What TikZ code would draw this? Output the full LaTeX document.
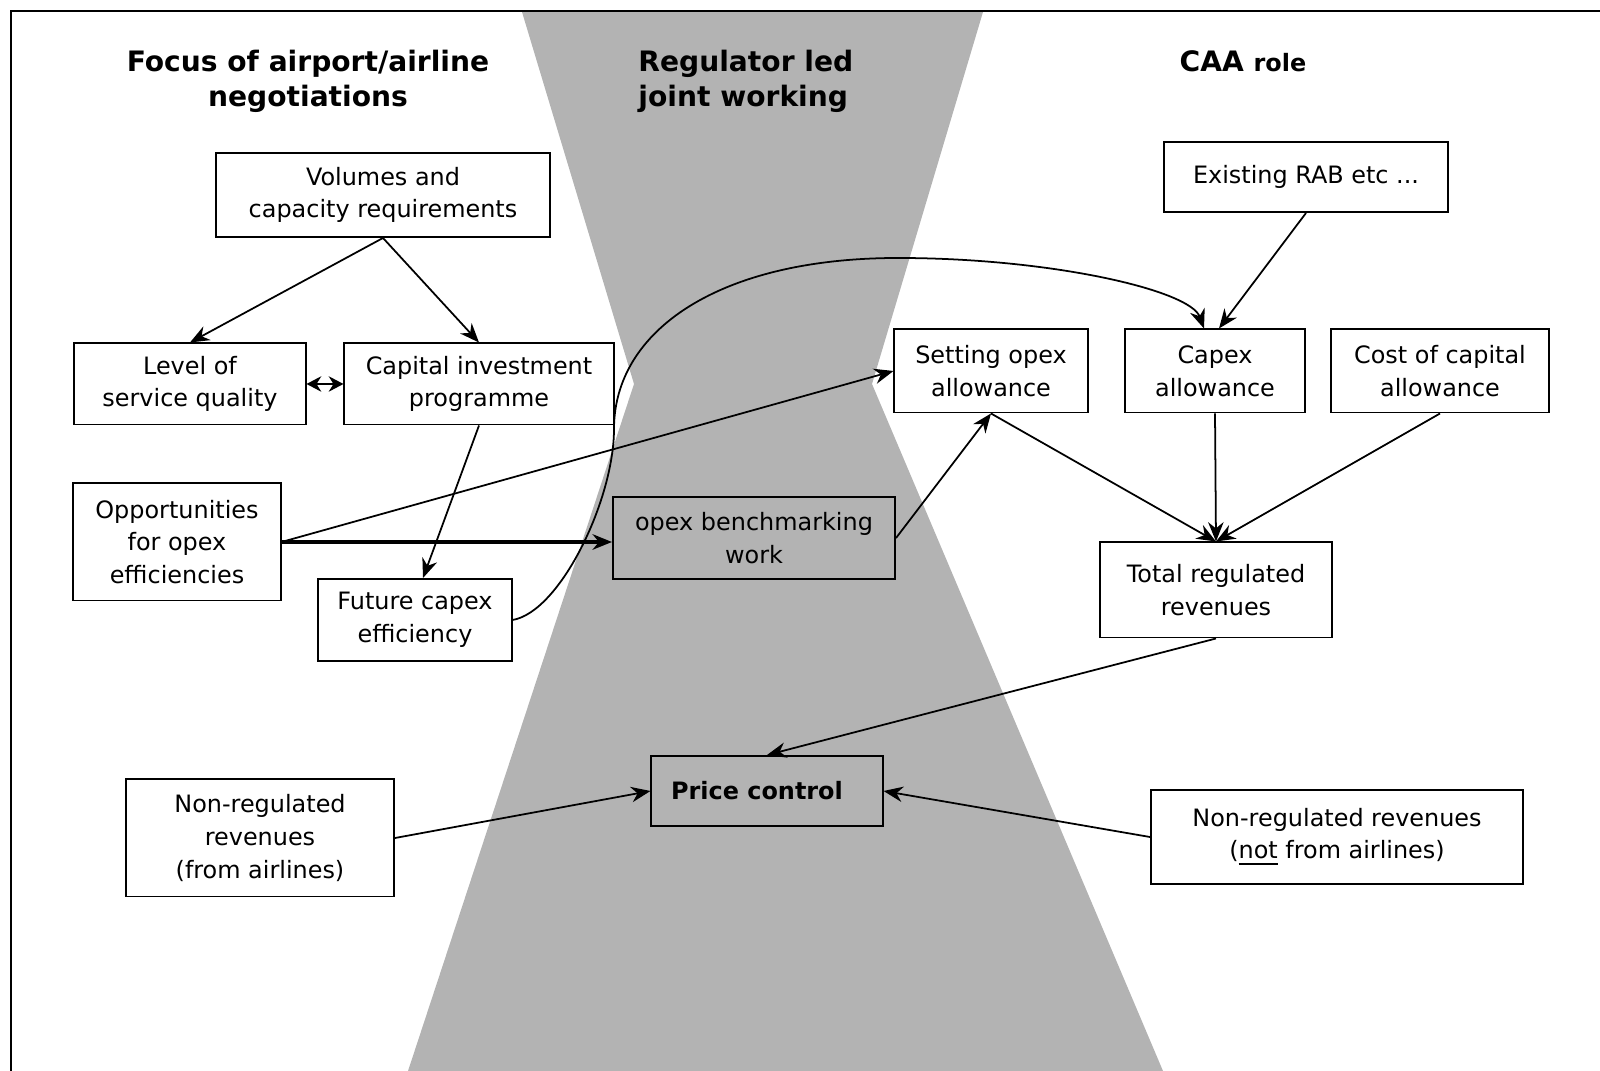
\documentclass[tikz,border=0pt]{standalone}
\usepackage{fontspec}
\setmainfont{DejaVu Sans}
\usepackage{tikz}
\usetikzlibrary{shapes.geometric, arrows, arrows.meta}
\usetikzlibrary{positioning}
\definecolor{hourglass}{RGB}{179,179,179}
\tikzstyle{box} = [rectangle, draw=black, line width=0.55pt, fill=white, align=center, inner sep=2pt, font=\fontsize{6.8}{9.3}\selectfont]
\tikzstyle{shadedbox} = [box, fill=none]
\tikzstyle{heading} = [align=center, font=\fontsize{8}{10}\selectfont\bfseries]
\tikzstyle{arrow} = [line width=0.5pt,->,>={Stealth[length=5.5pt,width=4.4pt]}]

\begin{document}
\begin{tikzpicture}[x=0.01cm, y=-0.01cm]
\useasboundingbox (0,0) rectangle (1600,1071);
% background band and frame
\fill[hourglass] (522,12) -- (983,12) -- (872,384) -- (1163,1071) -- (408,1071) -- (634,384) -- cycle;
\draw[line width=0.7pt] (11,1071) -- (11,11) -- (1600,11);

% headings
\node (h1) [heading] at (308,81) {Focus of airport/airline\\negotiations};
\node (h2) [heading, align=left, anchor=west] at (626,81) {Regulator led\\joint working};
\node (h3) [heading] at (1243,61) {CAA {\fontsize{6.8}{9}\selectfont role}};

% left column
\node (vol) [box, minimum width=3.33cm, minimum height=0.84cm] at (383,195) {Volumes and\\capacity requirements};
\node (lvl) [box, minimum width=2.31cm, minimum height=0.81cm] at (190,384) {Level of\\service quality};
\node (cip) [box, minimum width=2.69cm, minimum height=0.81cm] at (479,384) {Capital investment\\programme};
\node (opp) [box, minimum width=2.07cm, minimum height=1.17cm] at (177,542) {Opportunities\\for opex\\efficiencies};
\node (fut) [box, minimum width=1.93cm, minimum height=0.82cm] at (415,620) {Future capex\\efficiency};
\node (nra) [box, minimum width=2.68cm, minimum height=1.17cm] at (260,838) {Non-regulated\\revenues\\(from airlines)};

% middle
\node (bench) [shadedbox, minimum width=2.82cm, minimum height=0.82cm] at (754,538) {opex benchmarking\\work};
\node (pc) [shadedbox, minimum width=2.31cm, minimum height=0.70cm] at (767,791) {\textbf{Price control}\hspace*{0.2cm}};

% right column
\node (rab) [box, minimum width=2.83cm, minimum height=0.70cm] at (1306,177) {Existing RAB etc ...};
\node (sop) [box, minimum width=1.93cm, minimum height=0.83cm] at (991,371) {Setting opex\\allowance};
\node (cpx) [box, minimum width=1.79cm, minimum height=0.83cm] at (1215,371) {Capex\\allowance};
\node (coc) [box, minimum width=2.17cm, minimum height=0.83cm] at (1440,371) {Cost of capital\\allowance};
\node (trr) [box, minimum width=2.32cm, minimum height=0.95cm] at (1216,590) {Total regulated\\revenues};
\node (nrn) [box, minimum width=3.72cm, minimum height=0.94cm] at (1337,837) {Non-regulated revenues\\(\underline{not} from airlines)};

% connectors
\draw [arrow] (vol.south) -- (lvl.north);
\draw [arrow] (vol.south) -- (cip.north);
\draw [arrow, <->, >={Stealth[length=4.2pt,width=4.4pt]}] (lvl.east) -- (cip.west);
\draw [arrow] (cip.south) -- ([xshift=0.08cm]fut.north);
\draw [arrow, line width=1pt] (opp.east) -- (opp.east -| bench.west);
\draw [arrow] (opp.east) -- (sop.west);
\draw [arrow] (fut.east) .. controls (560,612) and (614,500) .. (614,429)
      .. controls (614,330) and (720,258) .. (898,258)
      .. controls (1050,258) and (1190,290) .. ([xshift=-0.11cm]cpx.north);
\draw [arrow] (rab.south) -- ([xshift=0.04cm]cpx.north);
\draw [arrow] (bench.east) -- (sop.south);
\draw [arrow] (sop.south) -- (trr.north);
\draw [arrow] (cpx.south) -- (trr.north);
\draw [arrow] (coc.south) -- (trr.north);
\draw [arrow] (trr.south) -- (pc.north);
\draw [arrow] (nra.east) -- (pc.west);
\draw [arrow] (nrn.west) -- (pc.east);
\end{tikzpicture}
\end{document}
